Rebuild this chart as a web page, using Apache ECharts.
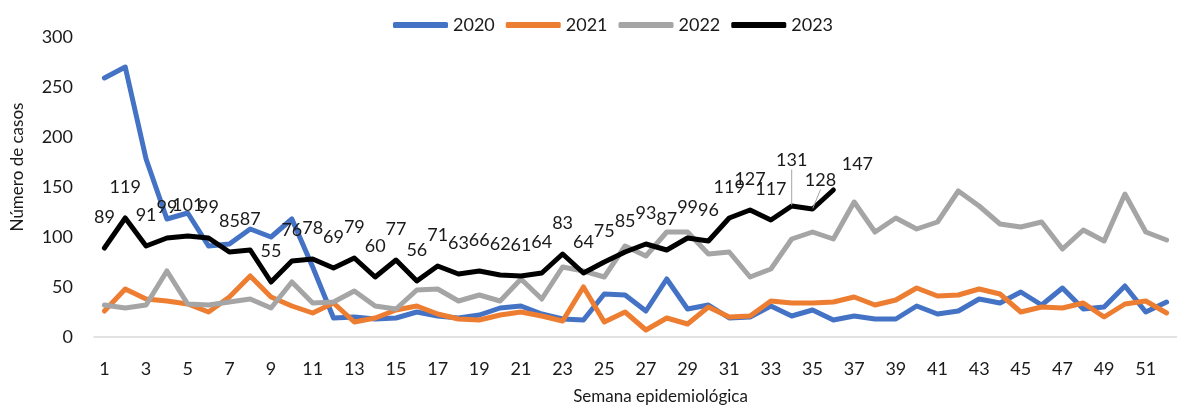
<!DOCTYPE html>
<html>
<head>
<meta charset="utf-8">
<title>Número de casos por semana epidemiológica</title>
<script src="https://cdn.jsdelivr.net/npm/echarts@6/dist/echarts.min.js"></script>
<style>
  html, body { margin: 0; padding: 0; background: #ffffff; }
  #chart { width: 1177px; height: 410px; }
</style>
</head>
<body>
<div id="chart"></div>
<script>
// Semanas epidemiológicas 1..52
const weeks = ['1','2','3','4','5','6','7','8','9','10','11','12','13','14','15','16','17','18','19','20',
  '21','22','23','24','25','26','27','28','29','30','31','32','33','34','35','36','37','38','39','40',
  '41','42','43','44','45','46','47','48','49','50','51','52'];

// Casos por semana y año
const cases2020 = [259, 270, 178, 118, 124, 91, 93, 108, 100, 118, 70, 19, 20, 18, 19, 25, 21, 19, 22, 29,
  31, 23, 18, 17, 43, 42, 26, 58, 28, 32, 19, 20, 31, 21, 27, 17, 21, 18, 18, 31,
  23, 26, 38, 34, 45, 32, 49, 28, 30, 51, 25, 35];
const cases2021 = [26, 48, 38, 36, 33, 25, 40, 61, 40, 31, 24, 34, 15, 19, 27, 31, 23, 18, 17, 22,
  25, 21, 16, 50, 15, 25, 7, 19, 13, 30, 20, 21, 36, 34, 34, 35, 40, 32, 37, 49,
  41, 42, 48, 43, 25, 30, 29, 34, 20, 33, 36, 24];
const cases2022 = [32, 29, 32, 66, 33, 32, 35, 38, 29, 55, 34, 35, 46, 31, 28, 47, 48, 36, 42, 36,
  58, 38, 70, 66, 60, 91, 81, 105, 105, 83, 85, 60, 68, 98, 105, 98, 135, 105, 119, 108,
  115, 146, 131, 113, 110, 115, 88, 107, 96, 143, 105, 97];
const cases2023 = [89, 119, 91, 99, 101, 99, 85, 87, 55, 76, 78, 69, 79, 60, 77, 56, 71, 63, 66, 62,
  61, 64, 83, 64, 75, 85, 93, 87, 99, 96, 119, 127, 117, 131, 128, 147];

const yTicks = { min: 0, max: 300, interval: 50 };

const FONT = 'Lato, "Noto Sans", sans-serif';
const TEXT = '#1a1a1a';

// labels of the last weeks of 2023 are nudged apart so they do not collide;
// the two with a leader line keep a thin guide back to their point
const moved = { 33: [0, -15], 34: [8, 2], 35: [24, 5] };
const guided = { 33: true, 34: true };
const data2023 = cases2023.map((v, i) =>
  guided[i] ? { value: v, labelLine: { show: true } } : v
);

function lineSeries(name, values, color, extra) {
  return Object.assign({
    name: name,
    type: 'line',
    data: values,
    symbol: 'none',
    smooth: false,
    lineStyle: { color: color, width: 5, cap: 'round', join: 'round' },
    itemStyle: { color: color },
    emphasis: { disabled: true },
    z: 2
  }, extra || {});
}

const chart = echarts.init(document.getElementById('chart'), null, { renderer: 'canvas' });

chart.setOption({
  animation: false,
  backgroundColor: '#ffffff',
  textStyle: { fontFamily: FONT },
  legend: {
    left: 388,
    top: 11,
    itemWidth: 55,
    itemHeight: 6,
    itemGap: 11,
    icon: 'roundRect',
    textStyle: { fontFamily: FONT, fontSize: 18, color: TEXT },
    data: ['2020', '2021', '2022', '2023']
  },
  grid: { left: 94, right: -7, top: 37, bottom: 72, containLabel: false },
  xAxis: {
    type: 'category',
    data: weeks,
    boundaryGap: true,
    name: 'Semana epidemiológica',
    nameLocation: 'middle',
    nameGap: 51,
    nameTextStyle: { fontFamily: FONT, fontSize: 17, color: TEXT, padding: [0, 0, 0, 50] },
    axisLine: { show: true, lineStyle: { color: '#d9d9d9', width: 1.5 } },
    axisTick: { show: false },
    axisLabel: { interval: 1, margin: 23, fontFamily: FONT, fontSize: 18, color: TEXT },
    splitLine: { show: false }
  },
  yAxis: {
    type: 'value',
    min: yTicks.min,
    max: yTicks.max,
    interval: yTicks.interval,
    name: 'Número de casos',
    nameLocation: 'middle',
    nameGap: 68,
    nameTextStyle: { fontFamily: FONT, fontSize: 17, color: TEXT, padding: [0, 0, 0, 40] },
    axisLine: { show: false },
    axisTick: { show: false },
    axisLabel: { margin: 21, fontFamily: FONT, fontSize: 18, color: TEXT },
    splitLine: { show: false }
  },
  series: [
    lineSeries('2020', cases2020, '#4472C4'),
    lineSeries('2021', cases2021, '#ED7D31'),
    lineSeries('2022', cases2022, '#A5A5A5'),
    lineSeries('2023', data2023, '#000000', {
      symbol: 'circle',
      symbolSize: 1,
      showSymbol: true,
      z: 3,
      label: {
        show: true,
        position: 'top',
        distance: 21,
        fontFamily: FONT,
        fontSize: 18,
        color: TEXT
      },
      labelLine: { show: false, lineStyle: { color: '#a6a6a6', width: 1 } },
      labelLayout: function (params) {
        const d = moved[params.dataIndex];
        return d ? { dx: d[0], dy: d[1] } : {};
      }
    })
  ]
});
</script>
</body>
</html>
